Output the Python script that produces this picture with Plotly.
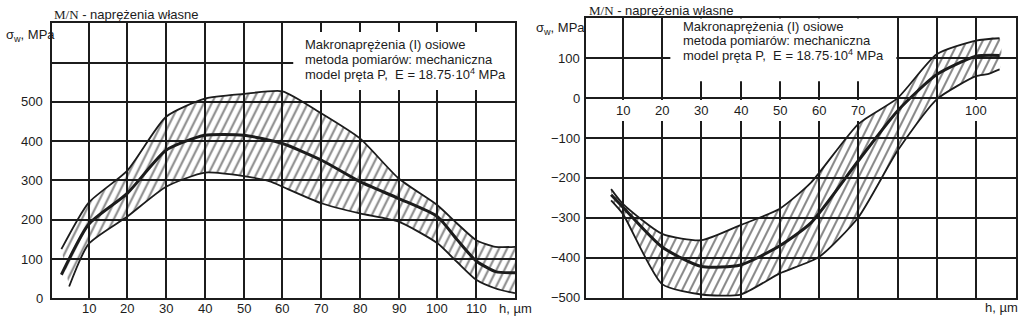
import plotly.graph_objects as go

W, H = 1023, 321

# ---- left panel: stress band vs depth (MPa vs µm)
L_upper_h = [3, 10, 20, 30, 40, 50, 60, 70, 80, 90, 100, 105, 110, 115, 120]
L_upper = [125, 243, 325, 462, 508, 520, 527, 471, 407, 305, 237, 191, 148, 131, 131]
L_mean_h = [3, 10, 20, 30, 40, 50, 60, 70, 80, 90, 100, 105, 110, 115, 120]
L_mean = [60, 188, 267, 377, 415, 415, 394, 352, 297, 254, 208, 150, 95, 68, 65]
L_lower_h = [5, 10, 20, 30, 40, 50, 57, 60, 70, 80, 90, 100, 105, 110, 115, 120]
L_lower = [30, 138, 208, 284, 320, 311, 297, 284, 242, 216, 195, 140, 93, 47, 25, 13]

L_xticks = [10, 20, 30, 40, 50, 60, 70, 80, 90, 100, 110]
L_yticks = [0, 100, 200, 300, 400, 500]

# ---- right panel
R_upper_h = [7, 10, 20, 30, 40, 50, 58, 70, 80, 90, 100, 106]
R_upper = [-228, -265, -340, -356, -318, -277, -211, -65, 0, 110, 144, 150]
R_mean_h = [7, 10, 20, 30, 40, 50, 58, 70, 80, 90, 100, 106]
R_mean = [-242, -273, -373, -422, -418, -370, -312, -157, -32, 59, 105, 107]
R_lower_h = [7, 10, 20, 30, 40, 50, 60, 70, 80, 90, 100, 103, 106]
R_lower = [-256, -290, -466, -492, -492, -439, -398, -299, -132, -3, 55, 60, 72]

R_xticks = [10, 20, 30, 40, 50, 60, 70, 100]
R_yticks = [100, 0, -100, -200, -300, -400, -500]

TITLE = "<span style='font-family:Liberation Serif'>M/N</span> - naprężenia własne"
YLABEL = "σ<sub>w</sub>, MPa"
XLABEL = "h, µm"
BOX_LINES = ["Makronaprężenia (I) osiowe",
             "metoda pomiarów: mechaniczna",
             "model pręta P,  E = 18.75·10<sup>4</sup> MPa"]

INK = "#1c1c1c"
FONT = dict(family="Liberation Sans, Arial, sans-serif", size=13, color=INK)
SPL = dict(shape="spline", smoothing=0.6)


def px(x):
    return x / W


def py(y):
    return 1 - y / H


def steep_hatch(s, w):
    """SVG path of a tileable steep hatch: two strokes per s×s tile, rising 2:1."""
    parts = []
    for o in (-s / 2, 0, s / 2, s):
        parts.append(f"M{o - w / 2:.2f},{s} L{o + w / 2:.2f},{s} "
                     f"L{o + s / 2 + w / 2:.2f},0 L{o + s / 2 - w / 2:.2f},0 Z")
    return " ".join(parts)


HATCH = steep_hatch(16, 2.3)

fig = go.Figure()


def band(xa, ya, lo_h, lo, up_h, up, mh, m):
    # hatched region: closed outline running along the upper edge and back along the lower one
    fig.add_trace(go.Scatter(x=list(up_h) + list(lo_h)[::-1], y=list(up) + list(lo)[::-1],
                             mode="lines", xaxis=xa, yaxis=ya, fill="toself",
                             fillcolor="rgba(0,0,0,0)",
                             fillpattern=dict(path=HATCH, size=16, fgcolor="#111111",
                                              bgcolor="rgba(0,0,0,0)"),
                             line=dict(color="rgba(0,0,0,0)", width=0, **SPL),
                             showlegend=False, hoverinfo="skip"))
    for hx, hy, w in ((lo_h, lo, 1.8), (up_h, up, 1.8), (mh, m, 3.0)):
        fig.add_trace(go.Scatter(x=hx, y=hy, mode="lines", xaxis=xa, yaxis=ya,
                                 line=dict(color=INK, width=w, **SPL), showlegend=False))


band("x", "y", L_lower_h, L_lower, L_upper_h, L_upper, L_mean_h, L_mean)
band("x2", "y2", R_lower_h, R_lower, R_upper_h, R_upper, R_mean_h, R_mean)

ax_common = dict(showgrid=True, gridcolor=INK, gridwidth=1.5, zeroline=False,
                 showline=True, mirror=True, linecolor=INK, linewidth=1.6,
                 ticks="", showticklabels=False, fixedrange=True)

fig.update_layout(
    width=W, height=H, margin=dict(l=0, r=0, t=0, b=0),
    paper_bgcolor="white", plot_bgcolor="white",
    xaxis=dict(domain=[px(51.7), px(515)], range=[0.5, 120], tickvals=L_xticks, **ax_common),
    yaxis=dict(domain=[py(298.3), py(23.3)], range=[0, 700],
               tickvals=[100, 200, 300, 400, 500, 600], **ax_common),
    xaxis2=dict(domain=[px(586), px(1016)], range=[0.6, 110.2], tickvals=list(range(10, 101, 10)),
                anchor="y2", **ax_common),
    yaxis2=dict(domain=[py(297.7), py(18.3)], range=[-500, 200],
                tickvals=[-400, -300, -200, -100, 0, 100], anchor="x2", **ax_common),
)

# white panels behind the notes (they interrupt the grid)
fig.add_shape(type="rect", xref="x", yref="y", x0=62.8, x1=120, y0=530, y1=678,
              fillcolor="white", line_width=0, layer="between")
fig.add_shape(type="rect", xref="x2", yref="y2", x0=22.1, x1=79.7, y0=42.6, y1=200,
              fillcolor="white", line_width=0, layer="between")
# gaps in the vertical grid where the right x labels sit along the zero line
for v in R_xticks:
    fig.add_shape(type="rect", xref="x2", yref="y2", x0=v - 1.2, x1=v + 1.2, y0=-57, y1=-5,
                  fillcolor="white", line_width=0, layer="between")

ann = []
# left panel tick labels
for v in L_xticks:
    ann.append(dict(x=v, y=py(308.3), xref="x", yref="paper", text=str(v),
                    showarrow=False, font=FONT, xanchor="center", yanchor="middle"))
for v in L_yticks:
    ann.append(dict(x=px(45), y=v, xref="paper", yref="y", text=str(v),
                    showarrow=False, font=FONT, xanchor="right", yanchor="middle"))
# right panel tick labels (x labels sit along the zero line)
for v in R_xticks:
    ann.append(dict(x=v, y=-32, xref="x2", yref="y2", text=str(v),
                    showarrow=False, font=FONT, xanchor="center", yanchor="middle"))
for v in R_yticks:
    t = str(v).replace("-", "−")
    ann.append(dict(x=px(582), y=v, xref="paper", yref="y2", text=t,
                    showarrow=False, font=FONT, xanchor="right", yanchor="middle"))

# titles and axis names
ann += [
    dict(x=px(52), y=py(14), text=TITLE, xanchor="left"),
    dict(x=px(587), y=py(10), text=TITLE, xanchor="left"),
    dict(x=px(4), y=py(35), text=YLABEL, xanchor="left"),
    dict(x=px(534), y=py(28), text=YLABEL, xanchor="left"),
    dict(x=px(497), y=py(308.3), text=XLABEL, xanchor="left"),
    dict(x=px(983), y=py(307), text=XLABEL, xanchor="left"),
]
for i, line in enumerate(BOX_LINES):
    ann.append(dict(x=px(303), y=py(44 + 15 * i), text=line, xanchor="left"))
    ann.append(dict(x=px(681), y=py(26 + 14.5 * i), text=line, xanchor="left"))

for a in ann:
    a.setdefault("xref", "paper")
    a.setdefault("yref", "paper")
    a.setdefault("showarrow", False)
    a.setdefault("font", FONT)
    a.setdefault("yanchor", "middle")
fig.update_layout(annotations=ann)

fig.write_html("out.html")
